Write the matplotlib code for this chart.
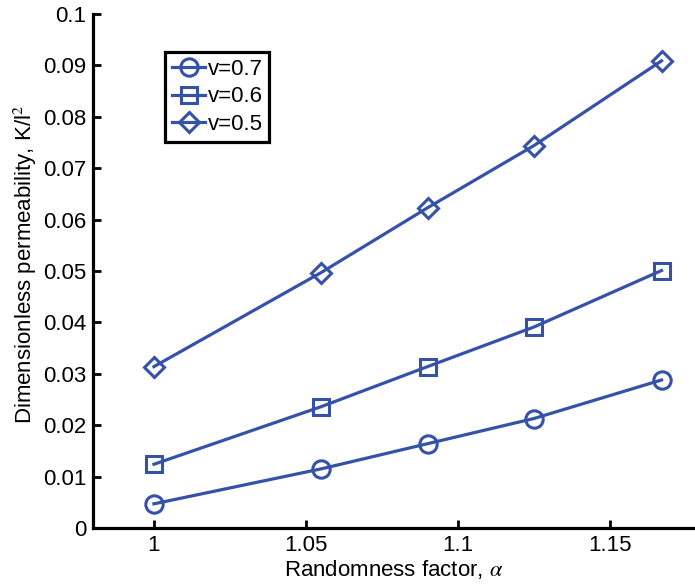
import matplotlib.pyplot as plt

plt.rcParams['font.family'] = ['Liberation Sans', 'DejaVu Sans']
plt.rcParams['mathtext.fontset'] = 'stix'

alpha = [1.0, 1.055, 1.09, 1.125, 1.167]
k_v07 = [0.0047, 0.0115, 0.0164, 0.0213, 0.0288]
k_v06 = [0.0124, 0.0236, 0.0314, 0.0391, 0.0501]
k_v05 = [0.0314, 0.0497, 0.0623, 0.0744, 0.0909]
labels = ['v=0.7', 'v=0.6', 'v=0.5']

color = '#3552a8'

fig = plt.figure(figsize=(6.95, 5.86), dpi=100)
ax = fig.add_axes([0.134, 0.099, 0.866, 0.877])

for ys, m, lab in zip([k_v07, k_v06, k_v05], ['o', 's', 'D'], labels):
    ms = {'o': 12.5, 's': 11, 'D': 10.5}[m]
    ax.plot(alpha, ys, marker=m, color=color, lw=2.3, ms=ms,
            mfc='none', mew=2.2, label=lab)

ax.set_xlim(0.98, 1.178)
ax.set_ylim(0, 0.1)
ax.set_xticks([1, 1.05, 1.1, 1.15])
ax.set_xticklabels(['1', '1.05', '1.1', '1.15'])
ax.set_yticks([0, 0.01, 0.02, 0.03, 0.04, 0.05, 0.06, 0.07, 0.08, 0.09, 0.1])
ax.set_yticklabels(['0', '0.01', '0.02', '0.03', '0.04', '0.05', '0.06',
                    '0.07', '0.08', '0.09', '0.1'])
ax.tick_params(direction='in', length=6, width=2, labelsize=16, pad=5)
for s in ['top', 'right']:
    ax.spines[s].set_visible(False)
for s in ['left', 'bottom']:
    ax.spines[s].set_linewidth(2.3)

ax.set_xlabel(r'Randomness factor, $\alpha$', fontsize=16)
ax.set_ylabel(r'Dimensionless permeability, K/l$^2$', fontsize=16)
ax.xaxis.set_label_coords(0.5, -0.058)
ax.yaxis.set_label_coords(-0.09, 0.512)

leg = ax.legend(loc='upper left', bbox_to_anchor=(0.12, 0.926), fontsize=16,
                frameon=True, fancybox=False, framealpha=1,
                handlelength=1.5, handletextpad=0.1, borderpad=0.3,
                labelspacing=0.3, borderaxespad=0)
leg.get_frame().set_edgecolor('black')
leg.get_frame().set_linewidth(2.3)

fig.savefig('out.png', dpi=100)
